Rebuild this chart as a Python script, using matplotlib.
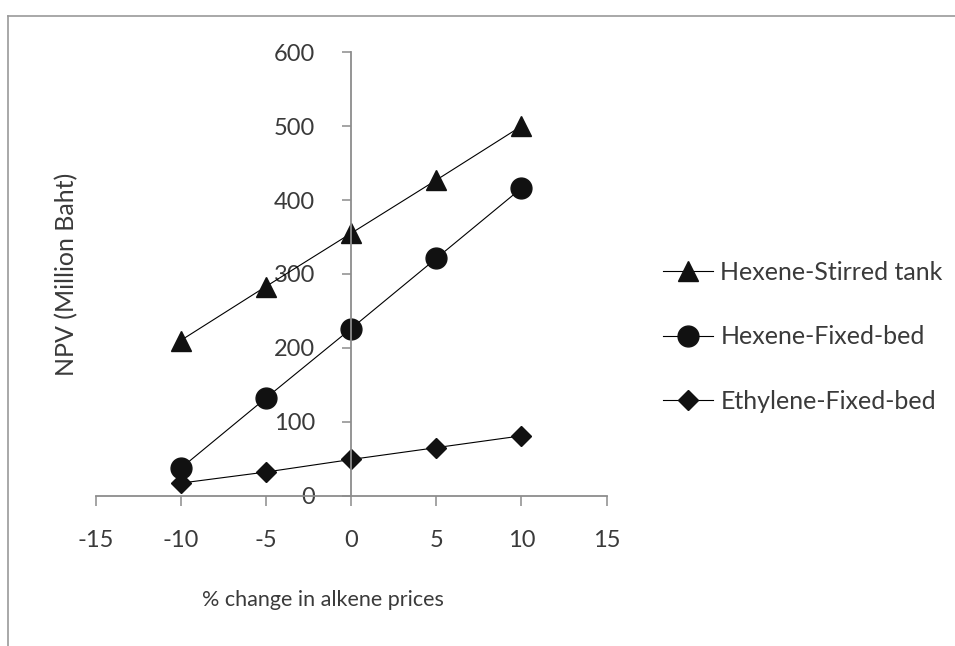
import matplotlib
matplotlib.use("Agg")
import matplotlib.pyplot as plt
from matplotlib.lines import Line2D

plt.rcParams['font.family'] = ['Lato', 'DejaVu Sans']

# Sensitivity of NPV to alkene price changes
pct_change = [-10, -5, 0, 5, 10]
hexene_stirred = [210, 283, 355, 427, 500]
hexene_fixed = [37, 132, 226, 321, 416]
ethylene_fixed = [17, 32, 49, 65, 81]

series_labels = ["Hexene-Stirred tank", "Hexene-Fixed-bed", "Ethylene-Fixed-bed"]
x_ticks = [-15, -10, -5, 0, 5, 10, 15]
y_ticks = [0, 100, 200, 300, 400, 500, 600]

text_col = "#3a3a3a"
axis_col = "#8c8c8c"

W, H = 955, 646
fig = plt.figure(figsize=(W / 100, H / 100), dpi=100)
ax = fig.add_axes([95.5 / W, 1 - 495.7 / H, (606.5 - 95.5) / W, (495.7 - 52.3) / H])

ax.plot(pct_change, hexene_stirred, color="black", lw=0.8, marker="^", ms=14.5,
        mfc="#111111", mec="#111111", label=series_labels[0], clip_on=False)
ax.plot(pct_change, hexene_fixed, color="black", lw=0.8, marker="o", ms=15,
        mfc="#111111", mec="#111111", label=series_labels[1], clip_on=False)
ax.plot(pct_change, ethylene_fixed, color="black", lw=0.8, marker="D", ms=10,
        mfc="#111111", mec="#111111", label=series_labels[2], clip_on=False)

ax.set_xlim(-15, 15)
ax.set_ylim(0, 600)
ax.set_xticks(x_ticks)
ax.set_yticks(y_ticks)
ax.set_xticklabels([str(v) for v in x_ticks])
ax.set_yticklabels([str(v) for v in y_ticks])

ax.spines['left'].set_position(('data', 0))
ax.spines['bottom'].set_position(('data', 0))
for s in ('top', 'right'):
    ax.spines[s].set_visible(False)
for s in ('left', 'bottom'):
    ax.spines[s].set_color(axis_col)
    ax.spines[s].set_linewidth(1.3)

ax.tick_params(axis='y', direction='out', length=6.5, width=1.1, color=axis_col,
               labelsize=17, labelcolor=text_col, pad=19.5)
ax.tick_params(axis='x', direction='out', length=7, width=1.1, color=axis_col,
               labelsize=17, labelcolor=text_col, pad=18)
ax.patch.set_alpha(0)

fig.text(67 / W, 1 - 274.5 / H, "NPV (Million Baht)", rotation=90, ha='center', va='center',
         fontsize=18, color=text_col)
fig.text(323 / W, 1 - 600 / H, "% change in alkene prices", ha='center', va='center',
         fontsize=15.5, color=text_col)

leg = ax.legend(loc='upper left', bbox_to_anchor=(663 / W, 1 - 261 / H),
                bbox_transform=fig.transFigure, frameon=False, fontsize=18,
                handlelength=2.0, handletextpad=0.3, labelspacing=1.66,
                borderpad=0, borderaxespad=0)
for t in leg.get_texts():
    t.set_color(text_col)

# outer frame of the chart area
fig.add_artist(Line2D([7.5 / W, 7.5 / W], [0, 1 - 16 / H], transform=fig.transFigure,
                      color="#9a9a9a", lw=1.2))
fig.add_artist(Line2D([7.5 / W, 1], [1 - 16 / H, 1 - 16 / H], transform=fig.transFigure,
                      color="#9a9a9a", lw=1.2))

fig.savefig("out.png", dpi=100)
